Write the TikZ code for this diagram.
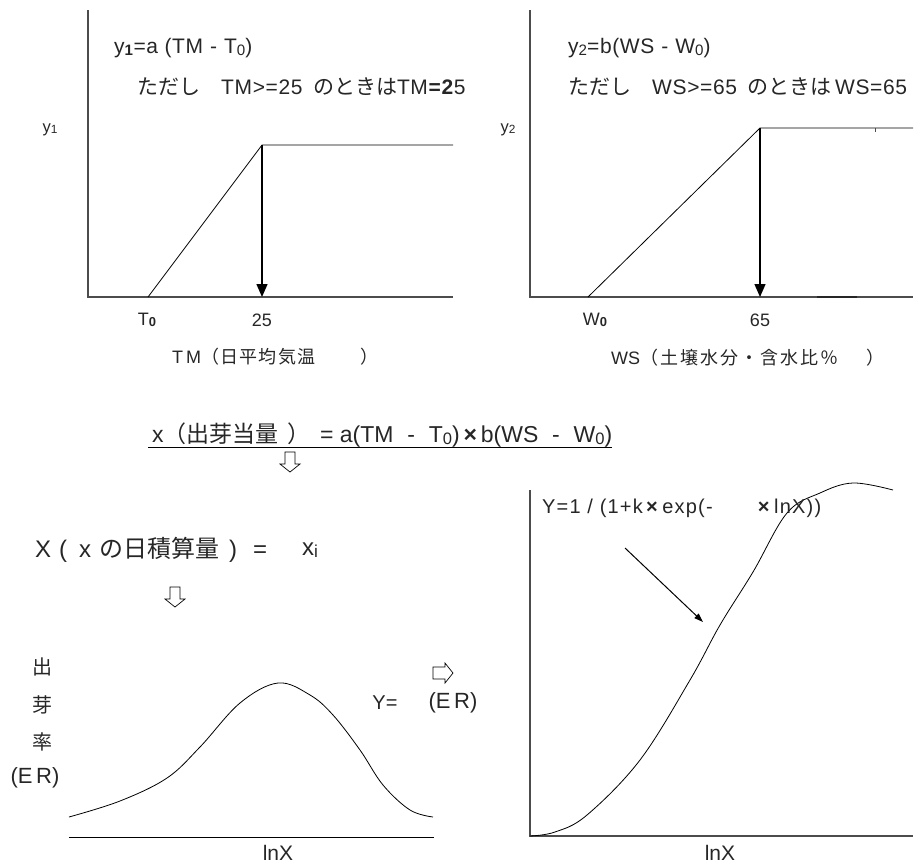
\documentclass[tikz,border=0pt]{standalone}
\usepackage{fontspec}
\setmainfont{Liberation Sans}
\newfontfamily\jp{Noto Sans CJK JP}
\usetikzlibrary{arrows.meta}
\newcommand\J[1]{{\jp #1}}
\newcommand\JL[2]{{\jp\addfontfeature{LetterSpace=#1}#2}}
\newcommand\lo[1]{\raisebox{-0.15ex}{\scalebox{0.72}{#1}}}
\tikzset{
  axis/.style={draw=black!70, line width=1.1pt},
  curve/.style={draw=black, line width=0.8pt},
  droparrow/.style={draw=black, line width=1.4pt, -{Triangle[length=13pt,width=11pt]}},
  hollow/.style={draw=black, fill=white, line width=0.7pt},
  txt/.style={inner sep=0pt, text=black!85},
  ftop/.style={font=\fontsize{21}{24}\selectfont\addfontfeature{LetterSpace=3}},
  f18/.style={font=\fontsize{18}{21}\selectfont},
  f16/.style={font=\fontsize{16.5}{19}\selectfont},
  f20/.style={font=\fontsize{20}{24}\selectfont},
  f21/.style={font=\fontsize{21}{24}\selectfont},
  f22/.style={font=\fontsize{22}{26}\selectfont},
  f23/.style={font=\fontsize{23}{27}\selectfont},
  f24/.style={font=\fontsize{24}{28}\selectfont},
}
\begin{document}
\begin{tikzpicture}[x=1pt,y=-1pt]
\useasboundingbox (0,0) rectangle (919,865);
% ---------- top-left graph
\coordinate (A1top) at (88,10);
\coordinate (A1o) at (88,297);
\coordinate (A1end) at (453,297);
\coordinate (T0) at (148,297);
\coordinate (K1) at (262,145);
\coordinate (K1b) at (262,297);
\coordinate (P1end) at (453,145);
\draw[axis] (A1top) -- (A1o) -- (A1end);
\draw[curve] (T0) -- (K1) -- (P1end);
\draw[droparrow] (K1) -- (K1b);
\node[txt,ftop,anchor=west] (t1a) at (114,48) {y\lo{\textbf{1}}=a (TM\,\,-\,\,T\lo{0})};
\node[txt,ftop,anchor=west] (t1b) at (137,87) {\J{ただし}\hspace{1.0em}TM>=25\hspace{0.5em}\J{のときは}TM\textbf{=2}5};
\node[txt,f16] (y1) at (50,130) {y\lo{1}};
\node[txt,f18] (lT0) at (147,320) {T\lo{\textbf{0}}};
\node[txt,f18] (l25) at (262,320) {25};
\node[txt,f18,anchor=west] (xt1) at (172,357) {T\hspace{3pt}M\JL{7}{（日平均気温}\hspace{2.5em}\J{）}};
% ---------- top-right graph
\coordinate (A2top) at (530,10);
\coordinate (A2o) at (530,297);
\coordinate (A2end) at (913,297);
\coordinate (W0) at (588,297);
\coordinate (K2) at (760,128);
\coordinate (K2b) at (760,297);
\coordinate (P2end) at (913,128);
\coordinate (M1) at (817,297);
\coordinate (M2) at (857,297);
\draw[axis] (A2top) -- (A2o) -- (A2end);
\draw[line width=1.6pt, black!85] (M1) -- (M2);
\draw[curve] (W0) -- (K2) -- (P2end);
\draw[black!70, line width=0.8pt] (875,128) -- (875,132);
\draw[droparrow] (K2) -- (K2b);
\node[txt,ftop,anchor=west] (t2a) at (568,48) {y\lo{2}=b(WS\,\,-\,\,W\lo{0})};
\node[txt,ftop,anchor=west] (t2b) at (568,87) {\J{ただし}\hspace{1.0em}WS>=65\hspace{0.5em}\J{のときは}\,WS=65};
\node[txt,f16] (y2) at (508,130) {y\lo{2}};
\node[txt,f18] (lW0) at (595,320) {W\lo{\textbf{0}}};
\node[txt,f18] (l65) at (760,320) {65};
\node[txt,f18,anchor=west] (xt2) at (611,358) {WS\JL{11}{（土壌水分・含水比％}\hspace{28pt}\J{）}};
% ---------- middle
\node[txt,f23,anchor=west] (fx) at (152,435) {x\J{（出芽当量}\hspace{0.4em}\J{）}\hspace{0.4em}= a(TM\hspace{0.6em}-\hspace{0.6em}T\lo{0})\,\textbf{×}\,b(WS\hspace{0.6em}-\hspace{0.6em}W\lo{0})};
\draw[black, line width=1pt] ([xshift=-4pt,yshift=-5pt]fx.base west) -- ([yshift=-5pt]fx.base east);
\draw[hollow] (285,452) -- (295,452) -- (295,464) -- (300,464) -- (290,472) -- (280,464) -- (285,464) -- cycle;
\node[txt,f24,anchor=west] (fX) at (35,550) {X\hspace{8pt}(\hspace{12pt}x\hspace{8pt}\J{の日積算量}\hspace{10pt})\hspace{16pt}=};
\node[txt,f24,anchor=west] (fxi) at (302,550) {x\lo{i}};
\draw[hollow] (170,587) -- (180,587) -- (180,599) -- (185,599) -- (175,607) -- (165,599) -- (170,599) -- cycle;
% ---------- bottom-left graph
\node[txt,f20] (c1) at (42,667) {\J{出}};
\node[txt,f20] (c2) at (42,705) {\J{芽}};
\node[txt,f20] (c3) at (42,742) {\J{率}};
\node[txt,f22] (er1) at (35,778) {(E\,R)};
\draw[curve] plot[smooth, tension=0.6] coordinates {(69,817) (120,801) (167,778) (200,747) (240,703) (278,683) (310,695) (333,715) (360,750) (383,785) (410,810) (433,817)};
\coordinate (B1a) at (69,837);
\coordinate (B1b) at (434,837);
\draw[black, line width=1pt] (B1a) -- (B1b);
\node[txt,f21] (lnx1) at (278,853) {lnX};
\node[txt,f20] (Yeq) at (385,703) {Y=};
\node[txt,f22] (er2) at (453,703) {(E\,R)};
\draw[hollow] (433,667) -- (445,667) -- (445,663) -- (453,673) -- (445,683) -- (445,679) -- (433,679) -- cycle;
% ---------- bottom-right graph
\coordinate (A3top) at (530,490);
\coordinate (A3o) at (530,836);
\coordinate (A3end) at (913,836);
\draw[axis] (A3top) -- (A3o) -- (A3end);
\draw[curve] plot[smooth, tension=0.6] coordinates {(530,836) (555,832) (587,815) (640,760) (690,680) (720,625) (753,572) (787,513) (820,493) (853,483) (893,490)};
\node[txt,f20,anchor=west,font=\fontsize{20}{24}\selectfont\addfontfeature{LetterSpace=6}] (fY) at (542,508) {Y=1 / (1+k\,\textbf{×}\,exp(-\hspace{2.2em}\textbf{×}\,lnX))};
\coordinate (ar1) at (625,548);
\coordinate (ar2) at (703,622);
\draw[black, line width=1pt, -{Triangle[length=9pt,width=6pt]}] (ar1) -- (ar2);
\node[txt,f21] (lnx2) at (720,853) {lnX};
\end{tikzpicture}
\end{document}
